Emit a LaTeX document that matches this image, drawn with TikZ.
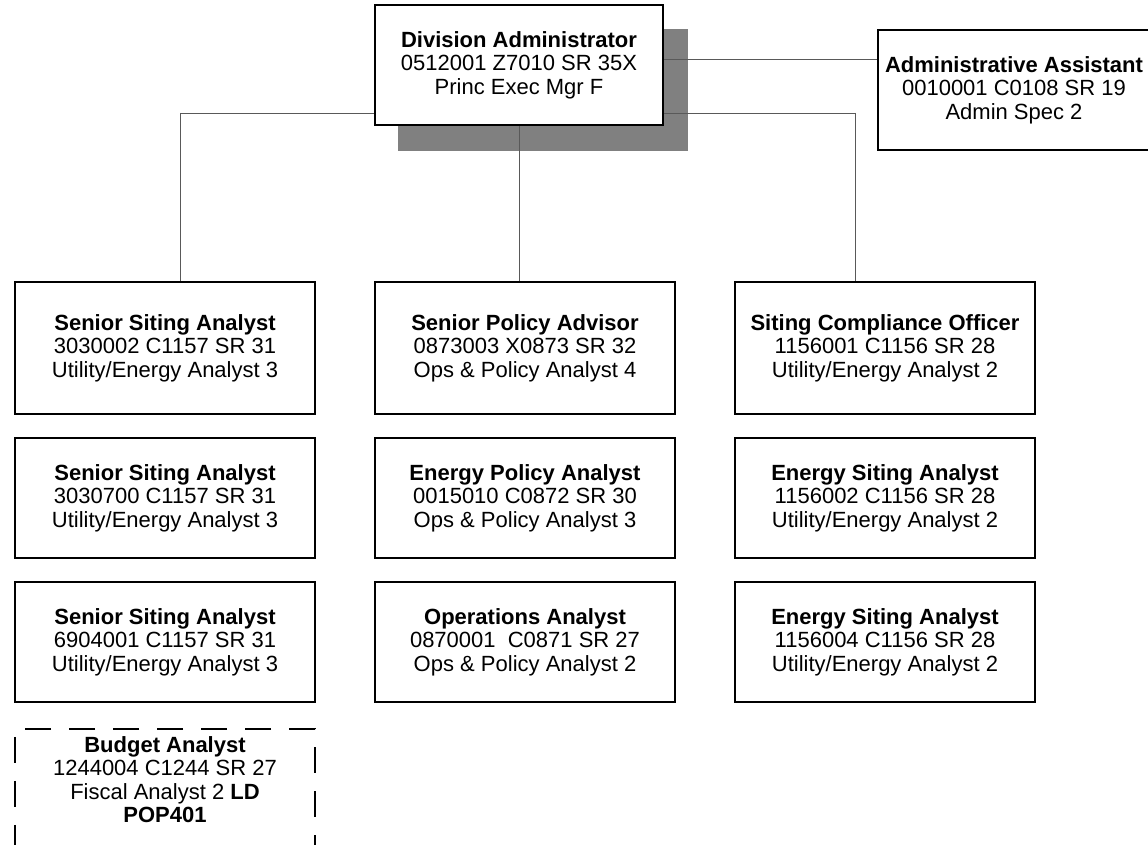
\documentclass[tikz,border=0pt]{standalone}
\usepackage{fontspec}
\setmainfont{Liberation Sans}
\usetikzlibrary{backgrounds}
\begin{document}
\begin{tikzpicture}[x=1pt, y=-1pt, font=\fontsize{22}{23.5}\selectfont,
	post/.style={draw=black, line width=1.6pt, fill=white, align=center, inner sep=0pt, minimum width=300pt, minimum height=120pt},
	wire/.style={draw=black!65, line width=0.9pt}]
		\useasboundingbox (0,0) rectangle (1148,845);
		\node[post, minimum width=288pt] (div) at (519,65) {\textbf{Division Administrator}\\0512001 Z7010 SR 35X\\Princ Exec Mgr F};
		\node[post, minimum width=272pt] (aa) at (1014,90) {\textbf{Administrative Assistant}\\0010001 C0108 SR 19\\Admin Spec 2};
		\node[post, minimum height=132pt] (ssa1) at (165,348) {\textbf{Senior Siting Analyst}\\3030002 C1157 SR 31\\Utility/Energy Analyst 3};
		\node[post, minimum height=132pt] (spa) at (525,348) {\textbf{Senior Policy Advisor}\\0873003 X0873 SR 32\\Ops \& Policy Analyst 4};
		\node[post, minimum height=132pt] (sco) at (885,348) {\textbf{Siting Compliance Officer}\\1156001 C1156 SR 28\\Utility/Energy Analyst 2};
		\node[post] (ssa2) at (165,498) {\textbf{Senior Siting Analyst}\\3030700 C1157 SR 31\\Utility/Energy Analyst 3};
		\node[post] (epa) at (525,498) {\textbf{Energy Policy Analyst}\\0015010 C0872 SR 30\\Ops \& Policy Analyst 3};
		\node[post] (esa1) at (885,498) {\textbf{Energy Siting Analyst}\\1156002 C1156 SR 28\\Utility/Energy Analyst 2};
		\node[post] (ssa3) at (165,642) {\textbf{Senior Siting Analyst}\\6904001 C1157 SR 31\\Utility/Energy Analyst 3};
		\node[post] (opa) at (525,642) {\textbf{Operations Analyst}\\0870001\ \ C0871 SR 27\\Ops \& Policy Analyst 2};
		\node[post] (esa2) at (885,642) {\textbf{Energy Siting Analyst}\\1156004 C1156 SR 28\\Utility/Energy Analyst 2};
		\node[post, dash pattern=on 26pt off 18pt, minimum height=140pt, anchor=north] (bud) at (165,728) {};
		\node[align=center, inner sep=0pt, anchor=north] (budtxt) at (165,736) {\textbf{Budget Analyst}\\1244004 C1244 SR 27\\Fiscal Analyst 2 \textbf{LD}\\\textbf{POP401}};
		\coordinate (busL) at (180,113);
		\coordinate (busR) at (855,113);
		\coordinate (tie) at (663,59);
		\begin{scope}[on background layer]
		\fill[black!50] (398,29) rectangle (688,151);
		\draw[wire] (busL) -- (busR);
		\draw[wire] (busL) -- (busL |- ssa1.north);
		\draw[wire] (busR) -- (busR |- sco.north);
		\draw[wire] (div.south) -- (div.south |- spa.north);
		\draw[wire] (tie) -- (tie -| aa.west);
		\end{scope}
		\end{tikzpicture}
\end{document}
